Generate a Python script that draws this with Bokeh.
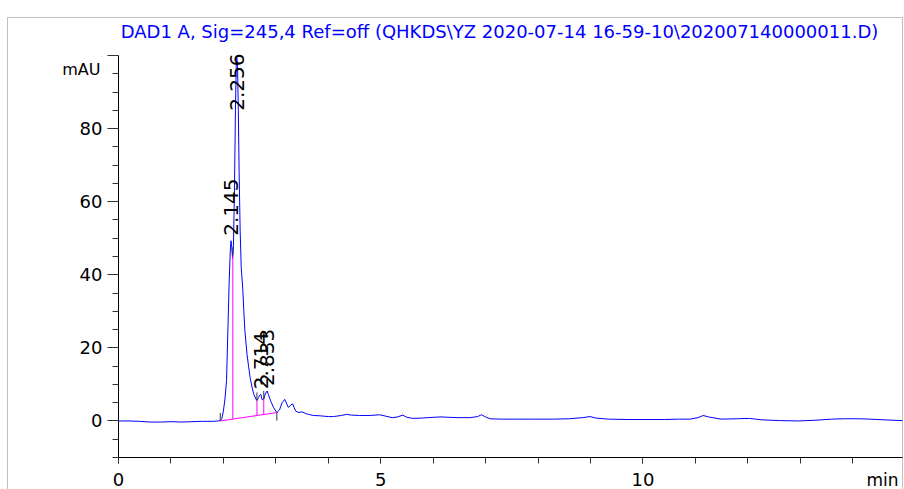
import numpy as np
from bokeh.plotting import figure
from bokeh.models import Range1d, SingleIntervalTicker, Label, BoxAnnotation, ColumnDataSource
from bokeh.core.properties import value
from bokeh.embed import file_html
from bokeh.resources import INLINE

# ---- data ----
title_text = "DAD1 A, Sig=245,4 Ref=off (QHKDS\\YZ 2020-07-14 16-59-10\\202007140000011.D)"

rt_min = [0.00, 0.20, 0.40, 0.60, 0.80, 1.00, 1.20, 1.40, 1.60, 1.80, 1.90, 1.94,
          1.97, 2.00, 2.03, 2.06, 2.09, 2.11, 2.13, 2.145, 2.16, 2.175, 2.19, 2.21,
          2.23, 2.245, 2.256, 2.27, 2.285, 2.30, 2.32, 2.34, 2.37, 2.39, 2.41, 2.45,
          2.48, 2.51, 2.55, 2.58, 2.62, 2.64, 2.67, 2.69, 2.714, 2.74, 2.77, 2.80,
          2.833, 2.86, 2.90, 2.96, 3.02, 3.07, 3.12, 3.17, 3.21, 3.24, 3.28, 3.32,
          3.35, 3.38, 3.44, 3.50, 3.56, 3.62, 3.72, 3.85, 4.00, 4.10, 4.25, 4.35,
          4.44, 4.60, 4.80, 4.98, 5.10, 5.22, 5.32, 5.42, 5.50, 5.61, 5.80, 6.00,
          6.15, 6.30, 6.49, 6.70, 6.85, 6.92, 7.00, 7.08, 7.30, 7.60, 7.96, 8.30,
          8.60, 8.85, 8.99, 9.10, 9.33, 9.70, 10.00, 10.41, 10.70, 10.90, 11.05, 11.15,
          11.25, 11.49, 11.80, 12.03, 12.15, 12.27, 12.60, 12.96, 13.30, 13.60, 13.84, 14.10,
          14.33, 14.60, 14.95]
signal_mau = [0.0, 0.0, -0.1, -0.3, -0.3, -0.2, -0.3, -0.2, -0.1, -0.1, 0.0, 0.1,
              0.6, 2.7, 6.0, 11.0, 27.0, 38.0, 46.0, 49.3, 47.5, 44.5, 47.0, 62.0,
              85.0, 97.0, 99.5, 97.0, 85.0, 68.0, 52.0, 42.0, 36.0, 30.0, 24.7, 18.3,
              15.0, 11.9, 9.0, 7.3, 6.0, 5.6, 6.4, 7.0, 7.3, 5.8, 6.0, 7.4,
              8.2, 7.2, 5.5, 3.6, 2.3, 3.0, 5.0, 5.9, 4.6, 3.7, 4.3, 4.7,
              3.6, 2.7, 2.3, 2.5, 2.1, 1.8, 1.5, 1.4, 1.2, 1.2, 1.5, 1.8,
              1.6, 1.5, 1.5, 1.7, 1.3, 0.9, 1.1, 1.6, 1.0, 0.7, 0.8, 1.0,
              1.1, 1.0, 0.9, 0.9, 1.2, 1.7, 1.1, 0.6, 0.5, 0.5, 0.5, 0.5,
              0.6, 0.9, 1.2, 0.8, 0.5, 0.4, 0.4, 0.4, 0.5, 0.5, 0.9, 1.5,
              1.1, 0.5, 0.6, 0.7, 0.5, 0.3, 0.1, 0.0, 0.2, 0.5, 0.6, 0.6,
              0.5, 0.3, 0.1]

peak_rt = [2.145, 2.256, 2.714, 2.833]
peak_labels = ["2.145", "2.256", "2.714", "2.833"]

baseline_t = [1.94, 3.02]      # integration baseline start / end (min)
baseline_y = [0.0, 2.3]        # mAU
valley_t = [2.18, 2.64, 2.77]  # drop-line positions (min)

x_axis_span = (0.0, 14.95)     # drawn extent of the time axis (min)
y_axis_span = (-10.0, 100.0)   # drawn extent of the signal axis (mAU)
x_ticks_interval = 5
y_ticks_interval = 20

# ---- geometry: the frame covers the whole canvas, axes sit at fixed data positions ----
W, H = 904, 489
ax_left, ax_right, ax_top, ax_bottom = 118, 902, 55, 457   # pixel positions of the axes
kx = (ax_right - ax_left) / (x_axis_span[1] - x_axis_span[0])
ky = (ax_bottom - ax_top) / (y_axis_span[1] - y_axis_span[0])
x0 = x_axis_span[0] - ax_left / kx
x1 = x0 + W / kx
y1 = y_axis_span[1] + ax_top / ky
y0 = y1 - H / ky

def px_to_x(px):
    return x0 + px / kx

def px_to_y(py):
    return y1 - py / ky

FONT = "DejaVu Sans"
p = figure(width=W, height=H, output_backend="svg", toolbar_location=None,
           x_range=Range1d(x0, x1), y_range=Range1d(y0, y1),
           min_border_left=0, min_border_right=0, min_border_top=0, min_border_bottom=0)
p.outline_line_color = None
p.xgrid.visible = False
p.ygrid.visible = False
p.background_fill_color = "white"
p.border_fill_color = "white"

# axes
xa = p.xaxis[0]
xa.fixed_location = y_axis_span[0]
xa.bounds = x_axis_span
xa.ticker = SingleIntervalTicker(interval=x_ticks_interval, num_minor_ticks=5)
xa.major_tick_out = 6
xa.major_tick_in = 0
xa.minor_tick_out = 6
xa.minor_tick_in = 0
xa.major_label_standoff = 9
xa.major_label_text_font = FONT
xa.major_label_text_font_size = "18px"
xa.major_label_text_color = "black"
xa.axis_line_color = "black"
xa.major_tick_line_color = "#333333"
xa.minor_tick_line_color = "#333333"

ya = p.yaxis[0]
ya.fixed_location = x_axis_span[0]
ya.bounds = y_axis_span
ya.ticker = SingleIntervalTicker(interval=y_ticks_interval, num_minor_ticks=4)
ya.major_label_overrides = {100: ""}
ya.major_tick_out = 11
ya.major_tick_in = 0
ya.minor_tick_out = 6
ya.minor_tick_in = 0
ya.major_label_standoff = 5
ya.major_label_text_font = FONT
ya.major_label_text_font_size = "18px"
ya.major_label_text_color = "black"
ya.axis_line_color = "black"
ya.major_tick_line_color = "#333333"
ya.minor_tick_line_color = "#333333"

# outer frame of the report
p.add_layout(BoxAnnotation(left=px_to_x(7), right=x_axis_span[1], top=px_to_y(17),
                           bottom=y0 - 10, fill_alpha=0, line_color="#333333",
                           line_width=1))

# trace
p.line(rt_min, signal_mau, line_color="#0000ff", line_width=1)

# integration baseline and drop lines
p.line(baseline_t, baseline_y, line_color="#ff00ff", line_width=1)
t_arr = np.array(rt_min)
s_arr = np.array(signal_mau)
v_base = np.interp(valley_t, baseline_t, baseline_y)
v_sig = np.interp(valley_t, t_arr, s_arr)
p.segment(x0=valley_t, y0=v_base, x1=valley_t, y1=v_sig, line_color="#ff00ff", line_width=1)

# event tick marks (black)
tick_h = 2.2
ev_x = list(valley_t) + [baseline_t[0], baseline_t[1]]
ev_y0 = list(v_sig) + [baseline_y[0], baseline_y[1]]
ev_y1 = list(v_sig + tick_h) + [baseline_y[0] + tick_h, baseline_y[1] - tick_h]
p.segment(x0=ev_x, y0=ev_y0, x1=ev_x, y1=ev_y1, line_color="#333333", line_width=1)

# peak labels (kept below the top of the axis)
apex = np.interp(peak_rt, t_arr, s_arr)
ceiling = y_axis_span[1] - 16.5
lab_y = np.minimum(apex, ceiling)
src = ColumnDataSource(dict(x=peak_rt, y=lab_y, t=peak_labels))
p.text(x="x", y="y", text="t", source=src, angle=np.pi / 2, text_align="left",
       text_baseline="middle", y_offset=-5, text_font=value(FONT),
       text_font_size="20px", text_color="black")

# title, unit labels
p.add_layout(Label(x=px_to_x(499), y=px_to_y(31), text=title_text, text_align="center",
                   text_baseline="middle", text_font=FONT, text_font_size="18px",
                   text_color="#0000ff"))
p.add_layout(Label(x=px_to_x(100), y=px_to_y(69), text="mAU", text_align="right",
                   text_baseline="middle", text_font=FONT, text_font_size="16px",
                   text_color="black"))
p.add_layout(Label(x=px_to_x(898), y=px_to_y(469), text="min", text_align="right",
                   text_baseline="top", text_font=FONT, text_font_size="17px",
                   text_color="black"))

open("out.html", "w").write(file_html(p, INLINE))
